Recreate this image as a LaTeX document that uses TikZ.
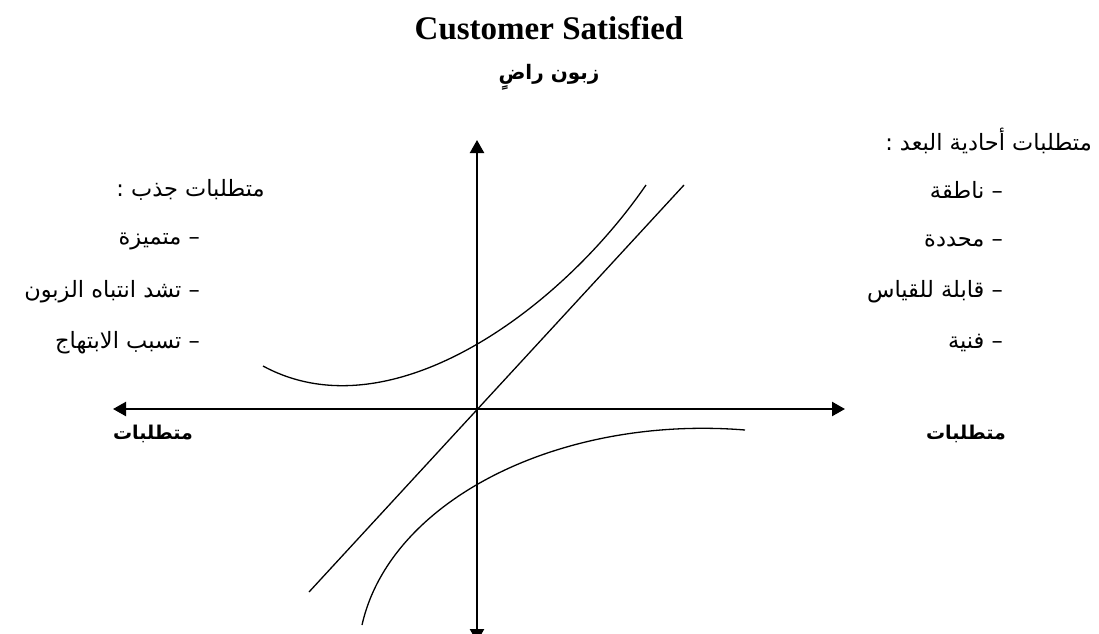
\documentclass[tikz,border=0pt]{standalone}
\usepackage{fontspec}
\setmainfont{Liberation Serif}
\newfontfamily\arabicfont[Script=Arabic]{DejaVu Sans}
\TeXXeTstate=1
\usetikzlibrary{arrows.meta}

\begin{document}
\begin{tikzpicture}[x=1pt,y=-1pt,
  axis/.style={line width=2.3pt,
               {Triangle[length=13pt,width=14pt]}-{Triangle[length=13pt,width=14pt]}},
  curve/.style={line width=1.3pt},
  ttl/.style={font=\bfseries\fontsize{33}{38}\selectfont,inner sep=0pt},
  artxt/.style={font=\arabicfont\fontsize{22.5}{27}\selectfont,inner sep=0pt},
  arbold/.style={font=\arabicfont\bfseries\fontsize{19}{23}\selectfont,inner sep=0pt},
]
\useasboundingbox (0,0) rectangle (1099,633);

%% Titles
\node[ttl] (title) at (549,28) {Customer Satisfied};
\node[arbold,font=\arabicfont\bfseries\fontsize{20}{24}\selectfont]
  (titlear) at (549,77) {\beginR زبون راضٍ\endR};

%% Axes
\coordinate (top) at (477,140);
\coordinate (bottom) at (477,642);
\coordinate (left) at (113,409);
\coordinate (right) at (845,409);
\draw[axis] (bottom) -- (top);
\draw[axis] (left) -- (right);

%% Axis labels
\node[arbold] (reqleft) at (153,434) {\beginR متطلبات\endR};
\node[arbold] (reqright) at (966,434) {\beginR متطلبات\endR};

%% Curves
\coordinate (linea) at (309,592);
\coordinate (lineb) at (684,185);
\draw[curve] (linea) -- (lineb);
\draw[curve] (263,366) .. controls (390,435) and (560,310) .. (646,185);
\draw[curve] (362,625) .. controls (390,500) and (560,415) .. (745,430);

%% Attractive requirements (left)
\node[artxt,anchor=east] (attr) at (265,190) {\beginR متطلبات جذب :\endR};
\node[artxt,anchor=east] (attr1) at (200,241) {\beginR – متميزة\endR};
\node[artxt,anchor=east] (attr2) at (200,292) {\beginR – تشد انتباه الزبون\endR};
\node[artxt,anchor=east] (attr3) at (200,343) {\beginR – تسبب الابتهاج\endR};

%% One-dimensional requirements (right)
\node[artxt,anchor=east] (onedim) at (1092,141) {\beginR متطلبات أحادية البعد :\endR};
\node[artxt,anchor=east] (onedim1) at (1003,190) {\beginR – ناطقة\endR};
\node[artxt,anchor=east] (onedim2) at (1003,241) {\beginR – محددة\endR};
\node[artxt,anchor=east] (onedim3) at (1003,292) {\beginR – قابلة للقياس\endR};
\node[artxt,anchor=east] (onedim4) at (1003,343) {\beginR – فنية\endR};

\end{tikzpicture}
\end{document}
